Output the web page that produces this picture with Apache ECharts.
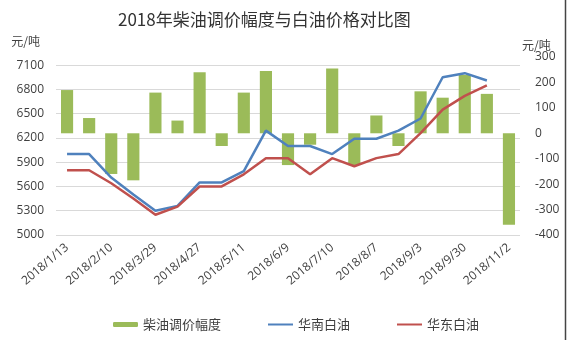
<!DOCTYPE html>
<html>
<head>
<meta charset="utf-8">
<script src="https://cdn.jsdelivr.net/npm/echarts@6/dist/echarts.min.js"></script>
<style>
  html, body { margin: 0; padding: 0; background: #fff; }
  #chart { width: 568px; height: 340px; }
</style>
</head>
<body>
<div id="chart"></div>
<script>
// Adjustment dates (every other one is labelled on the axis)
const dates = [
  '2018/1/13', '2018/1/27', '2018/2/10', '2018/3/15', '2018/3/29', '2018/4/13',
  '2018/4/27', '2018/5/4', '2018/5/11', '2018/5/25', '2018/6/9', '2018/6/23',
  '2018/7/10', '2018/7/24', '2018/8/7', '2018/8/21', '2018/9/3', '2018/9/17',
  '2018/9/30', '2018/10/19', '2018/11/2'
];

// Diesel price adjustment, yuan/ton (right axis)
const dieselAdjust = [
  170, 60, -160, -185, 160, 50, 240, -50, 160, 245, -125,
  -45, 255, -125, 70, -50, 165, 140, 230, 155, -360
];

// White oil prices, yuan/ton (left axis)
const southChina = [
  6000, 6000, 5710, 5500, 5300, 5360, 5650, 5650, 5790, 6290, 6100,
  6100, 6000, 6190, 6190, 6290, 6440, 6950, 7000, 6910, null
];
const eastChina = [
  5800, 5800, 5640, 5450, 5250, 5350, 5600, 5600, 5750, 5950, 5950,
  5750, 5950, 5850, 5950, 6000, 6260, 6550, 6720, 6850, null
];

const seriesNames = ['柴油调价幅度', '华南白油', '华东白油'];

const labelFont = '"Open Sans", "Noto Sans CJK SC", sans-serif';
const cjkFont = '"Noto Sans CJK SC", sans-serif';

const chart = echarts.init(document.getElementById('chart'), null, { renderer: 'canvas' });

chart.setOption({
  animation: false,
  backgroundColor: '#ffffff',
  title: {
    text: '2018年柴油调价幅度与白油价格对比图',
    left: 113,
    top: 6,
    textStyle: { fontFamily: cjkFont, fontSize: 17, fontWeight: 'normal', color: '#333333' }
  },
  legend: {
    data: [
      { name: seriesNames[0] },
      { name: seriesNames[1], itemStyle: { opacity: 0 } },
      { name: seriesNames[2], itemStyle: { opacity: 0 } }
    ],
    left: 108,
    top: 313,
    itemWidth: 25,
    itemHeight: 5,
    itemGap: 46,
    itemTextGap: 4,
    textStyle: { fontFamily: cjkFont, fontSize: 13, color: '#404040' }
  },
  grid: { left: 56, right: 48, top: 57, bottom: 105 },
  xAxis: {
    type: 'category',
    data: dates,
    boundaryGap: true,
    axisLine: { show: false },
    axisTick: { show: false },
    axisLabel: {
      interval: 1,
      rotate: 40,
      margin: 11,
      fontFamily: labelFont,
      fontSize: 12,
      color: '#404040'
    }
  },
  yAxis: [
    {
      type: 'value',
      position: 'left',
      min: 5000,
      max: 7200,
      interval: 300,
      name: '元/吨',
      nameLocation: 'end',
      nameGap: 10,
      nameTextStyle: { fontFamily: cjkFont, fontSize: 12, color: '#404040', align: 'right', padding: [0, 16, 0, 0] },
      axisLine: { show: false },
      axisTick: { show: false },
      axisLabel: {
        margin: 12,
        showMaxLabel: false,
        fontFamily: labelFont,
        fontSize: 12,
        color: '#404040',
        formatter: (v) => String(v)
      },
      splitLine: { show: true, showMaxLine: false, lineStyle: { color: '#d9d9d9', width: 1 } }
    },
    {
      type: 'value',
      position: 'right',
      min: -400,
      max: 300,
      interval: 100,
      name: '元/吨',
      nameLocation: 'end',
      nameGap: 6,
      nameTextStyle: { fontFamily: cjkFont, fontSize: 12, color: '#404040', align: 'left', padding: [0, 0, 0, 2] },
      axisLine: { show: false },
      axisTick: { show: false },
      axisLabel: {
        margin: 15,
        fontFamily: labelFont,
        fontSize: 12,
        color: '#404040',
        formatter: (v) => String(v)
      },
      splitLine: { show: false }
    }
  ],
  series: [
    {
      name: seriesNames[0],
      type: 'bar',
      yAxisIndex: 1,
      data: dieselAdjust,
      barWidth: '55%',
      itemStyle: { color: '#9bbb59' }
    },
    {
      name: seriesNames[1],
      type: 'line',
      yAxisIndex: 0,
      data: southChina,
      symbol: 'none',
      lineStyle: { color: '#4f81bd', width: 2.5 },
      itemStyle: { color: '#4f81bd' }
    },
    {
      name: seriesNames[2],
      type: 'line',
      yAxisIndex: 0,
      data: eastChina,
      symbol: 'none',
      lineStyle: { color: '#c0504d', width: 2.5 },
      itemStyle: { color: '#c0504d' }
    }
  ],
  graphic: [
    {
      type: 'line',
      shape: { x1: 565.5, y1: 0, x2: 565.5, y2: 340 },
      style: { stroke: '#444444', lineWidth: 1.5 }
    }
  ]
});
</script>
</body>
</html>
